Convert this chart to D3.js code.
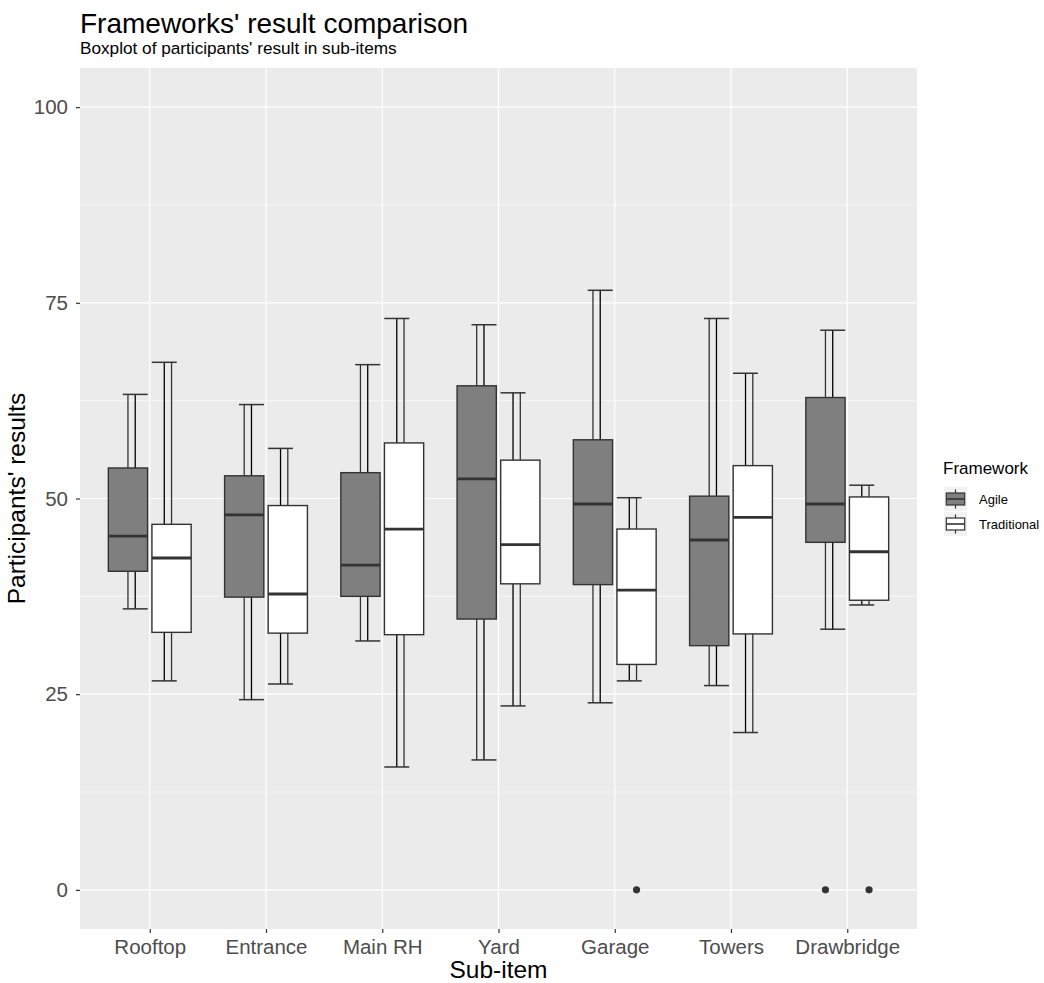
<!DOCTYPE html>
<html>
<head>
<meta charset="utf-8">
<script src="https://cdn.jsdelivr.net/npm/d3@7"></script>
<style>
  body { margin: 0; background: #fff; }
  text { font-family: "Liberation Sans", Arial, Helvetica, sans-serif; }
</style>
</head>
<body>
<div id="chart"></div>
<script>
// categories on the x axis
var subItems = ["Rooftop", "Entrance", "Main RH", "Yard", "Garage", "Towers", "Drawbridge"];
var frameworks = ["Agile", "Traditional"];

// box statistics, per sub-item
var agileLower  = [35.9, 24.3, 31.8, 16.6, 23.9, 26.1, 33.3];
var agileQ1     = [40.7, 37.4, 37.5, 34.6, 39.0, 31.2, 44.4];
var agileMedian = [45.2, 47.9, 41.5, 52.5, 49.3, 44.7, 49.3];
var agileQ3     = [53.9, 52.9, 53.3, 64.4, 57.5, 50.3, 62.9];
var agileUpper  = [63.3, 62.0, 67.1, 72.2, 76.6, 73.0, 71.5];
var agileOut    = [[], [], [], [], [], [], [0]];

var tradLower  = [26.7, 26.3, 15.7, 23.5, 26.7, 20.1, 36.4];
var tradQ1     = [32.9, 32.8, 32.6, 39.1, 28.8, 32.7, 37.0];
var tradMedian = [42.4, 37.8, 46.1, 44.1, 38.3, 47.6, 43.2];
var tradQ3     = [46.7, 49.1, 57.1, 54.9, 46.1, 54.2, 50.2];
var tradUpper  = [67.4, 56.4, 73.0, 63.5, 50.1, 66.0, 51.7];
var tradOut    = [[], [], [], [], [0], [], [0]];

var yTicks = [0, 25, 50, 75, 100];
var yMinor = [12.5, 37.5, 62.5, 87.5];

var fills = {"Agile": "#7f7f7f", "Traditional": "#ffffff"};

// build rows
var rows = [];
subItems.forEach(function(s, i) {
  rows.push({item: s, fw: "Agile", lower: agileLower[i], q1: agileQ1[i], med: agileMedian[i],
             q3: agileQ3[i], upper: agileUpper[i], out: agileOut[i]});
  rows.push({item: s, fw: "Traditional", lower: tradLower[i], q1: tradQ1[i], med: tradMedian[i],
             q3: tradQ3[i], upper: tradUpper[i], out: tradOut[i]});
});

var W = 1044, H = 983;
var panel = {left: 80, right: 917, top: 68, bottom: 929};

var svg = d3.select("#chart").append("svg")
  .attr("width", W)
  .attr("height", H);

var x = d3.scalePoint()
  .domain(subItems)
  .range([panel.left, panel.right])
  .padding(0.6);
var step = x.step();

var y = d3.scaleLinear()
  .domain([-5, 105])
  .range([panel.bottom, panel.top]);

// dodge offsets (in fractions of a category step)
var boxOff = {"Agile": -0.1875 * step, "Traditional": 0.1875 * step};
var boxW = 0.3375 * step;
var barOff = {"Agile": -0.125 * step, "Traditional": 0.125 * step};
var capW = 0.215 * step;

// panel background
svg.append("rect")
  .attr("x", panel.left).attr("y", panel.top)
  .attr("width", panel.right - panel.left)
  .attr("height", panel.bottom - panel.top)
  .attr("fill", "#ebebeb");

// grid
svg.append("g").selectAll("line").data(yMinor).enter().append("line")
  .attr("x1", panel.left).attr("x2", panel.right)
  .attr("y1", function(d) { return y(d); }).attr("y2", function(d) { return y(d); })
  .attr("stroke", "#fff").attr("stroke-width", 0.6);
svg.append("g").selectAll("line").data(yTicks).enter().append("line")
  .attr("x1", panel.left).attr("x2", panel.right)
  .attr("y1", function(d) { return y(d); }).attr("y2", function(d) { return y(d); })
  .attr("stroke", "#fff").attr("stroke-width", 1.2);
svg.append("g").selectAll("line").data(subItems).enter().append("line")
  .attr("x1", function(d) { return x(d); }).attr("x2", function(d) { return x(d); })
  .attr("y1", panel.top).attr("y2", panel.bottom)
  .attr("stroke", "#fff").attr("stroke-width", 1.2);

// errorbars (drawn under the boxes)
var eb = svg.append("g").selectAll("g").data(rows).enter().append("g");
eb.append("line")
  .attr("x1", function(d) { return x(d.item) + barOff[d.fw]; })
  .attr("x2", function(d) { return x(d.item) + barOff[d.fw]; })
  .attr("y1", function(d) { return y(d.lower); })
  .attr("y2", function(d) { return y(d.upper); })
  .attr("stroke", "#000").attr("stroke-width", 1.3);
["lower", "upper"].forEach(function(k) {
  eb.append("line")
    .attr("x1", function(d) { return x(d.item) + barOff[d.fw] - capW / 2; })
    .attr("x2", function(d) { return x(d.item) + barOff[d.fw] + capW / 2; })
    .attr("y1", function(d) { return y(d[k]); })
    .attr("y2", function(d) { return y(d[k]); })
    .attr("stroke", "#333").attr("stroke-width", 1.5);
});

// boxplots
var bp = svg.append("g").selectAll("g").data(rows).enter().append("g");
bp.append("line")
  .attr("x1", function(d) { return x(d.item) + boxOff[d.fw]; })
  .attr("x2", function(d) { return x(d.item) + boxOff[d.fw]; })
  .attr("y1", function(d) { return y(d.q3); })
  .attr("y2", function(d) { return y(d.upper); })
  .attr("stroke", "#333").attr("stroke-width", 1.3);
bp.append("line")
  .attr("x1", function(d) { return x(d.item) + boxOff[d.fw]; })
  .attr("x2", function(d) { return x(d.item) + boxOff[d.fw]; })
  .attr("y1", function(d) { return y(d.q1); })
  .attr("y2", function(d) { return y(d.lower); })
  .attr("stroke", "#333").attr("stroke-width", 1.3);
bp.append("rect")
  .attr("x", function(d) { return x(d.item) + boxOff[d.fw] - boxW / 2; })
  .attr("y", function(d) { return y(d.q3); })
  .attr("width", boxW)
  .attr("height", function(d) { return y(d.q1) - y(d.q3); })
  .attr("fill", function(d) { return fills[d.fw]; })
  .attr("stroke", "#333").attr("stroke-width", 1.4);
bp.append("line")
  .attr("x1", function(d) { return x(d.item) + boxOff[d.fw] - boxW / 2; })
  .attr("x2", function(d) { return x(d.item) + boxOff[d.fw] + boxW / 2; })
  .attr("y1", function(d) { return y(d.med); })
  .attr("y2", function(d) { return y(d.med); })
  .attr("stroke", "#333").attr("stroke-width", 2.8);
bp.selectAll("circle")
  .data(function(d) { return d.out.map(function(v) { return {item: d.item, fw: d.fw, v: v}; }); })
  .enter().append("circle")
  .attr("cx", function(d) { return x(d.item) + boxOff[d.fw]; })
  .attr("cy", function(d) { return y(d.v); })
  .attr("r", 3.6)
  .attr("fill", "#333");

// axes
var yAxis = svg.append("g")
  .attr("transform", "translate(" + panel.left + ",0)")
  .call(d3.axisLeft(y).tickValues(yTicks).tickSize(4).tickPadding(8));
var xAxis = svg.append("g")
  .attr("transform", "translate(0," + panel.bottom + ")")
  .call(d3.axisBottom(x).tickSize(4).tickPadding(6));
[yAxis, xAxis].forEach(function(a) {
  a.select(".domain").remove();
  a.selectAll(".tick line").attr("stroke", "#333").attr("stroke-width", 1.2);
  a.selectAll(".tick text").attr("fill", "#4d4d4d").style("font-size", "20.5px");
});

// titles
svg.append("text")
  .attr("x", 80).attr("y", 33)
  .style("font-size", "28px").attr("fill", "#000")
  .text("Frameworks' result comparison");
svg.append("text")
  .attr("x", 80).attr("y", 54)
  .style("font-size", "17.2px").attr("fill", "#000")
  .text("Boxplot of participants' result in sub-items");

svg.append("text")
  .attr("x", (panel.left + panel.right) / 2).attr("y", 978)
  .attr("text-anchor", "middle")
  .style("font-size", "24.5px")
  .text("Sub-item");
svg.append("text")
  .attr("transform", "translate(25," + ((panel.top + panel.bottom) / 2) + ") rotate(-90)")
  .attr("text-anchor", "middle")
  .style("font-size", "24.5px")
  .text("Participants' results");

// legend
var lg = svg.append("g").attr("transform", "translate(944,0)");
lg.append("text")
  .attr("x", -1).attr("y", 474)
  .style("font-size", "17px")
  .text("Framework");
frameworks.forEach(function(f, i) {
  var ky = 487 + i * 25, kw = 23, kh = 24;
  var g = lg.append("g").attr("transform", "translate(0," + ky + ")");
  g.append("rect").attr("width", kw).attr("height", kh).attr("fill", "#f2f2f2");
  g.append("line").attr("x1", kw / 2).attr("x2", kw / 2).attr("y1", kh * 0.1).attr("y2", kh * 0.9)
    .attr("stroke", "#333").attr("stroke-width", 1.2);
  g.append("rect").attr("x", kw * 0.1).attr("y", kh * 0.25)
    .attr("width", kw * 0.8).attr("height", kh * 0.5)
    .attr("fill", fills[f]).attr("stroke", "#333").attr("stroke-width", 1.2);
  g.append("line").attr("x1", kw * 0.1).attr("x2", kw * 0.9).attr("y1", kh / 2).attr("y2", kh / 2)
    .attr("stroke", "#333").attr("stroke-width", 1.6);
  g.append("text")
    .attr("x", 35).attr("y", kh / 2 + 5)
    .style("font-size", "13px").attr("fill", "#000")
    .text(f);
});
</script>
</body>
</html>
